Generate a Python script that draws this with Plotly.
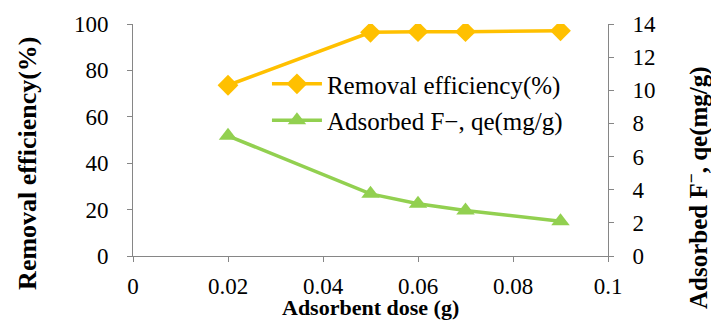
import plotly.graph_objects as go

dose = [0.02, 0.05, 0.06, 0.07, 0.09]
removal = [73.6, 96.4, 96.7, 96.7, 97.1]
adsorbed = [7.25, 3.75, 3.15, 2.75, 2.1]

orange = "#FFC000"
green = "#92D050"
font_family = "Liberation Serif, Times New Roman, serif"

fig = go.Figure()
fig.add_trace(go.Scatter(
    x=dose, y=removal, name="Removal efficiency(%)", legendgroup="a",
    mode="lines+markers",
    line=dict(color=orange, width=3.5),
    marker=dict(symbol="diamond", size=16, color=orange),
))
fig.add_trace(go.Scatter(
    x=dose, y=adsorbed, name="Adsorbed F−, qe(mg/g)", legendgroup="b",
    mode="lines+markers", yaxis="y2",
    line=dict(color=green, width=3.5),
    marker=dict(symbol="triangle-up", size=16, color=green),
))

axis_common = dict(
    showgrid=False, zeroline=False, showline=True, linecolor="#868686", linewidth=1,
    ticks="outside", ticklen=5, tickcolor="#868686",
    tickfont=dict(family=font_family, size=23, color="black"),
    automargin=False,
)

fig.update_layout(
    width=711, height=320,
    margin=dict(l=133, r=103, t=24, b=64),
    plot_bgcolor="white", paper_bgcolor="white",
    font=dict(family=font_family, color="black"),
    xaxis=dict(range=[0, 0.1], dtick=0.02, tick0=0, ticklabelstandoff=4, **axis_common),
    yaxis=dict(range=[0, 100], dtick=20, ticklabelstandoff=14, **axis_common),
    yaxis2=dict(range=[0, 14], dtick=2, overlaying="y", side="right", ticklabelstandoff=14, **axis_common),
    legend=dict(x=0.282, y=0.84, xanchor="left", yanchor="top",
                font=dict(family=font_family, size=25, color="black"),
                bgcolor="rgba(0,0,0,0)", tracegroupgap=1, itemwidth=50),
    showlegend=True,
    annotations=[
        dict(text="<b>Adsorbent dose (g)</b>", xref="paper", yref="paper",
             x=0.499, y=0, xanchor="center", yanchor="middle", yshift=-51,
             showarrow=False, font=dict(family=font_family, size=22, color="black")),
        dict(text="<b>Removal efficiency(%)</b>", xref="paper", yref="paper",
             x=0, y=0.397, xanchor="center", yanchor="middle", xshift=-105, textangle=-90,
             showarrow=False, font=dict(family=font_family, size=26, color="black")),
        dict(text="<b>Adsorbed F<sup>−</sup>, qe(mg/g)</b>", xref="paper", yref="paper",
             x=1, y=0.293, xanchor="center", yanchor="middle", xshift=89, textangle=-90,
             showarrow=False, font=dict(family=font_family, size=25, color="black")),
    ],
)

fig.write_html("out.html")
